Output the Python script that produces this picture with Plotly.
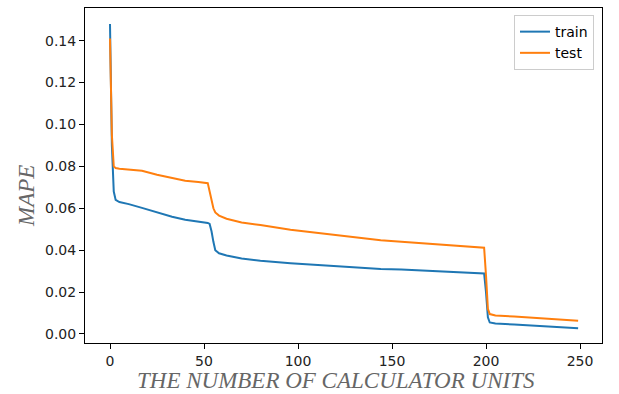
import plotly.graph_objects as go

units = [0, 1, 2, 3, 5, 10, 17, 25, 33, 40, 47, 52, 53, 54, 55, 56, 58, 62, 70, 80,
         96, 120, 144, 155, 175, 198, 199, 200, 201, 202, 205, 215, 230, 249]
train = [0.148, 0.090, 0.068, 0.0640, 0.0630, 0.0620, 0.0602, 0.0580, 0.0560, 0.0545,
         0.0537, 0.0530, 0.0525, 0.0490, 0.0440, 0.0400, 0.0385, 0.0375, 0.0360, 0.0350,
         0.0338, 0.0325, 0.0310, 0.0308, 0.0300, 0.0290, 0.0289, 0.0200, 0.0080, 0.0055,
         0.0050, 0.0045, 0.0037, 0.0028]
test = [0.141, 0.095, 0.080, 0.0792, 0.0789, 0.0785, 0.0779, 0.0760, 0.0745, 0.0731,
        0.0725, 0.0720, 0.0680, 0.0630, 0.0600, 0.0580, 0.0565, 0.0550, 0.0532, 0.0520,
        0.0498, 0.0472, 0.0447, 0.0440, 0.0428, 0.0413, 0.0412, 0.0280, 0.0120, 0.0095,
        0.0088, 0.0083, 0.0075, 0.0063]
x_ticks = [0, 50, 100, 150, 200, 250]
y_ticks = [0.00, 0.02, 0.04, 0.06, 0.08, 0.10, 0.12, 0.14]
x_title = "THE NUMBER OF CALCULATOR UNITS"
y_title = "MAPE"

W, H = 619, 394
L, R, T, B = 85, 17, 8, 51
pw, ph = W - L - R, H - T - B

fig = go.Figure()
fig.add_trace(go.Scatter(x=units, y=train, mode="lines", name="train",
                         line=dict(color="#1f77b4", width=2)))
fig.add_trace(go.Scatter(x=units, y=test, mode="lines", name="test",
                         line=dict(color="#ff7f0e", width=2)))

axis_common = dict(showline=True, linecolor="#000", linewidth=1, mirror=True,
                   ticks="outside", ticklen=5, tickcolor="#000", tickwidth=1,
                   showgrid=False, zeroline=False, automargin=False,
                   tickfont=dict(family="DejaVu Sans", size=14, color="#222"))

title_font = dict(family="Liberation Serif", size=23, color="#666")

fig.update_layout(
    width=W, height=H,
    margin=dict(l=L, r=R, t=T, b=B),
    paper_bgcolor="white", plot_bgcolor="white",
    xaxis=dict(range=[-13.3, 261.7], tickvals=x_ticks,
               ticktext=[str(v) for v in x_ticks], **axis_common),
    yaxis=dict(range=[-0.0043, 0.1556], tickvals=y_ticks,
               ticktext=[f"{v:.2f}" for v in y_ticks], **axis_common),
    legend=dict(x=0.9845, y=0.979, xanchor="right", yanchor="top",
                bgcolor="rgba(255,255,255,0.8)", bordercolor="#ccc", borderwidth=1,
                font=dict(family="DejaVu Sans", size=14, color="#000")),
    showlegend=True,
    annotations=[
        dict(text=f"<i>{x_title}</i>", xref="paper", yref="paper",
             x=(336 - L) / pw, y=(H - B - 380) / ph, xanchor="center", yanchor="middle",
             showarrow=False, font=title_font),
        dict(text=f"<i>{y_title}</i>", xref="paper", yref="paper", textangle=-90,
             x=(26 - L) / pw, y=(H - B - 196) / ph, xanchor="center", yanchor="middle",
             showarrow=False, font=title_font),
    ],
)

fig.write_html("out.html", config={"displayModeBar": False},
               post_script="document.body.style.margin='0';document.body.style.overflow='hidden';")
